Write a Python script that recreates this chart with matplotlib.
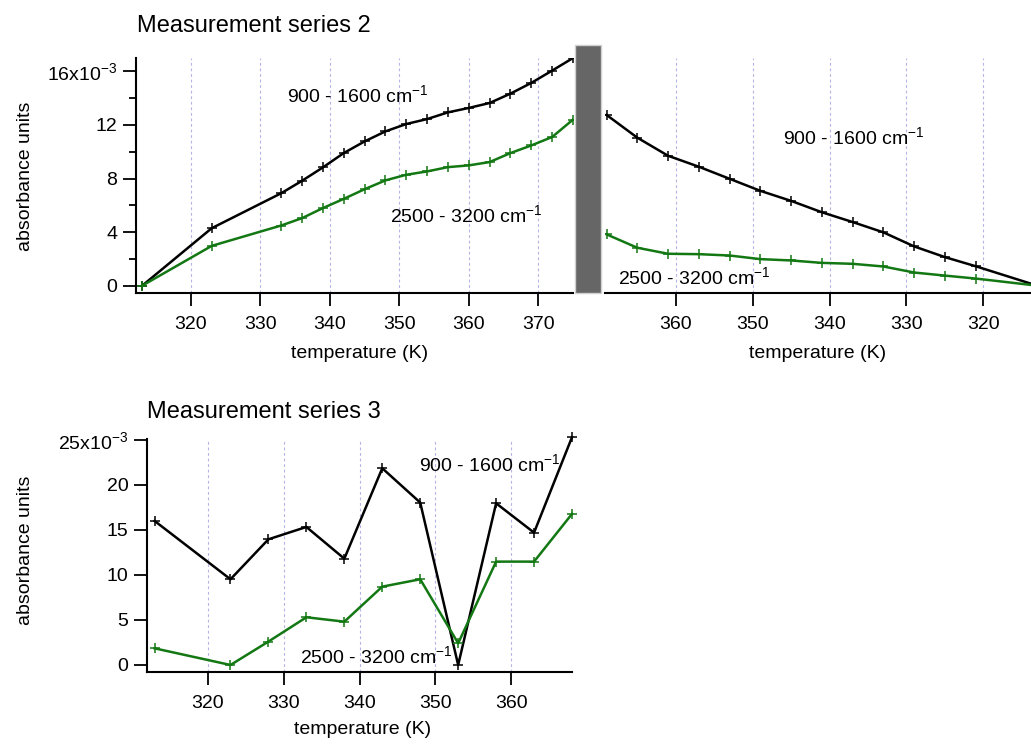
import matplotlib
matplotlib.use('Agg')
from matplotlib import pyplot as plt
from matplotlib.patches import Rectangle

plt.rcParams['font.family'] = ['Liberation Sans', 'DejaVu Sans']
plt.rcParams['mathtext.fontset'] = 'custom'
plt.rcParams['mathtext.rm'] = 'Liberation Sans'
plt.rcParams['mathtext.it'] = 'Liberation Sans:italic'

# measurement series 2, heating (absorbance in 1e-3 units)
temp_up = [313, 323, 333, 336, 339, 342, 345, 348, 351, 354, 357, 360, 363, 366, 369, 372, 375]
low_up = [0, 4.29, 6.9, 7.83, 8.83, 9.9, 10.77, 11.52, 12.07, 12.44, 12.94, 13.27, 13.64, 14.34, 15.14, 16.06, 17.0]
high_up = [0, 2.97, 4.49, 5.04, 5.79, 6.48, 7.2, 7.86, 8.28, 8.53, 8.85, 8.98, 9.23, 9.9, 10.47, 11.1, 12.4]

# measurement series 2, cooling
temp_down = [369, 365, 361, 357, 353, 349, 345, 341, 337, 333, 329, 325, 321, 313]
low_down = [12.75, 11.05, 9.7, 8.88, 7.98, 7.08, 6.33, 5.48, 4.75, 3.98, 2.93, 2.13, 1.45, 0]
high_down = [3.83, 2.83, 2.38, 2.35, 2.25, 1.98, 1.88, 1.7, 1.63, 1.43, 0.98, 0.75, 0.53, 0]

# measurement series 3
temp3 = [313, 323, 328, 333, 338, 343, 348, 353, 358, 363, 368]
low3 = [16.0, 9.52, 13.96, 15.33, 11.81, 21.85, 18.04, 0, 17.96, 14.7, 25.3]
high3 = [1.85, 0, 2.6, 5.3, 4.81, 8.7, 9.52, 2.41, 11.48, 11.48, 16.78]

low_label = '900 - 1600 cm$^{-1}$'
high_label = '2500 - 3200 cm$^{-1}$'
green = '#137813'
grid_col = '#b4b4e6'

W, H = 1031, 744
fig = plt.figure(figsize=(W/100, H/100), dpi=100)


def box(l, t, r, b):
    return [l/W, 1-b/H, (r-l)/W, (b-t)/H]


def style(ax, xticks):
    for s in ['top', 'right']:
        ax.spines[s].set_visible(False)
    ax.spines['bottom'].set_linewidth(1.5)
    ax.spines['left'].set_linewidth(1.5)
    ax.set_xticks(xticks)
    ax.tick_params(axis='both', direction='out', length=9.5, width=1.3, labelsize=14)
    ax.tick_params(axis='x', pad=7)
    ax.tick_params(axis='y', pad=4)
    ax.tick_params(which='minor', direction='out', length=5, width=1.3)
    for x in xticks:
        ax.axvline(x, color=grid_col, lw=0.8, ls=(0, (2.5, 2.5)), zorder=0)


def draw(ax, t, a, b, clip=True):
    ax.plot(t, a, color='black', lw=1.8, marker='+', ms=6.5, mew=1.1, clip_on=clip)
    ax.plot(t, b, color=green, lw=1.8, marker='+', ms=6.5, mew=1.1, clip_on=clip)


# top left
ax1 = fig.add_axes(box(136, 58, 573, 293))
draw(ax1, temp_up, low_up, high_up)
ax1.set_xlim(312.1, 375)
ax1.set_ylim(-0.55, 17.0)
style(ax1, [320, 330, 340, 350, 360, 370])
ax1.set_yticks([0, 4, 8, 12, 16])
ax1.set_yticklabels(['0', '4', '8', '12', '16x10$^{-3}$'])
ax1.set_yticks([2, 6, 10, 14], minor=True)
ax1.text(333.9, 14.2, low_label, fontsize=14, va='center')
ax1.text(348.6, 5.3, high_label, fontsize=14, va='center')

# top right (reversed temperature axis)
ax2 = fig.add_axes(box(605, 58, 1031, 293))
draw(ax2, temp_down, low_down, high_down)
ax2.set_xlim(369.2, 313.8)
ax2.set_ylim(-0.55, 17.0)
style(ax2, [360, 350, 340, 330, 320])
ax2.spines['left'].set_visible(False)
ax2.set_yticks([])
ax2.text(346.1, 11.07, low_label, fontsize=14, va='center')
ax2.text(367.5, 0.63, high_label, fontsize=14, va='center')

# bottom
ax3 = fig.add_axes(box(147, 439, 572, 672))
draw(ax3, temp3, low3, high3, clip=False)
ax3.set_xlim(312, 368)
ax3.set_ylim(-0.78, 25.1)
style(ax3, [320, 330, 340, 350, 360])
ax3.set_yticks([0, 5, 10, 15, 20, 25])
ax3.set_yticklabels(['0', '5', '10', '15', '20', '25x10$^{-3}$'])
ax3.text(347.9, 22.3, low_label, fontsize=14, va='center')
ax3.text(332.2, 0.93, high_label, fontsize=14, va='center')

# gap marker between the two halves of series 2
fig.add_artist(Rectangle((575/W, 1-293/H), 26/W, 248/H, transform=fig.transFigure,
                         facecolor='#666666', edgecolor='#d0d0d0', lw=1))

fig.text(137/W, 1-32/H, 'Measurement series 2', fontsize=17, va='baseline')
fig.text(147/W, 1-418/H, 'Measurement series 3', fontsize=17, va='baseline')
fig.text(26/W, 1-176/H, 'absorbance units', fontsize=14, rotation=90, ha='center', va='center')
fig.text(26/W, 1-550/H, 'absorbance units', fontsize=14, rotation=90, ha='center', va='center')
fig.text(360/W, 1-353/H, 'temperature (K)', fontsize=14, ha='center', va='center')
fig.text(818/W, 1-353/H, 'temperature (K)', fontsize=14, ha='center', va='center')
fig.text(363/W, 1-730/H, 'temperature (K)', fontsize=14, ha='center', va='center')

plt.savefig('out.png', dpi=100)
